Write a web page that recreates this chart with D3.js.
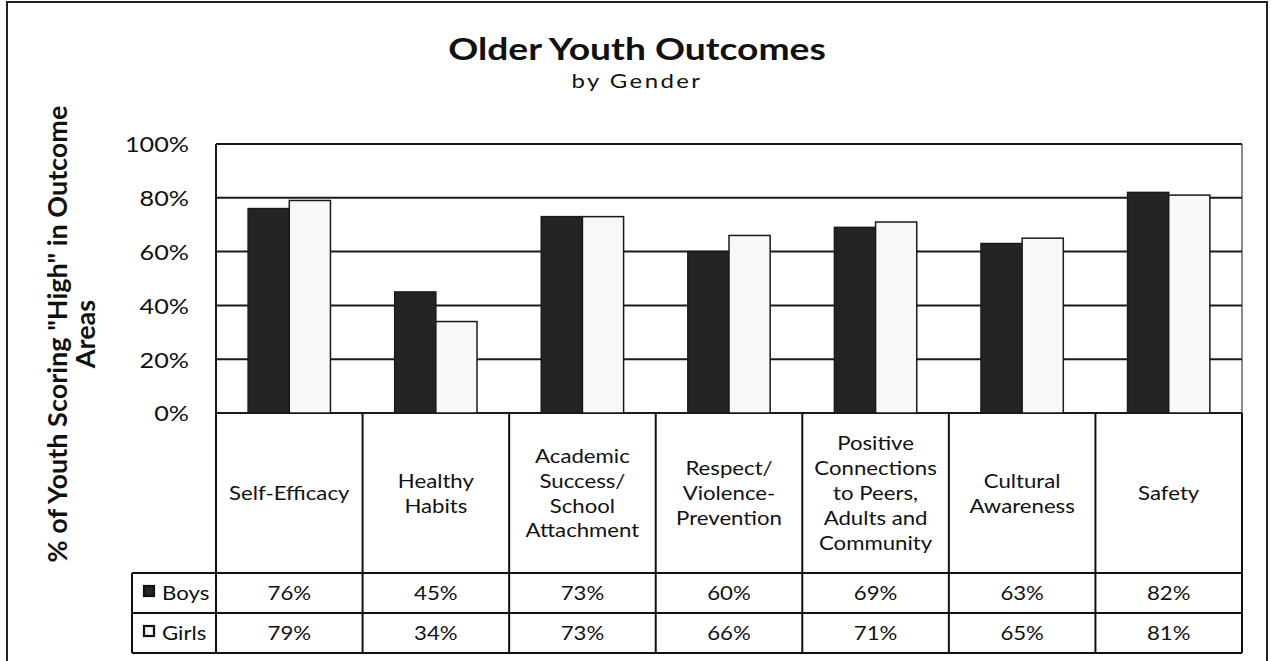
<!DOCTYPE html>
<html><head><meta charset="utf-8">
<script src="https://cdn.jsdelivr.net/npm/d3@7"></script>
<style>body{margin:0;background:#fff}svg{display:block}text{font-family:Lato,"Open Sans",sans-serif;fill:#111}</style>
</head><body><svg id="c" width="1271" height="661"></svg>
<script>
const categories = [
  ["Self-Efficacy"],
  ["Healthy","Habits"],
  ["Academic","Success/","School","Attachment"],
  ["Respect/","Violence-","Prevention"],
  ["Positive","Connections","to Peers,","Adults and","Community"],
  ["Cultural","Awareness"],
  ["Safety"]
];
const seriesNames = ["Boys","Girls"];
const boys = [76,45,73,60,69,63,82];
const girls = [79,34,73,66,71,65,81];
const yTicks = [0,20,40,60,80,100];
const title = "Older Youth Outcomes";
const subtitle = "by Gender";
const yLabel = ['% of Youth Scoring "High" in Outcome','Areas'];

const svg = d3.select("#c");
const L=216,R=1242,T=144,B=413;
const rowH=[573,613,653];
const legendL=132;
const S=1.2; // horizontal text stretch to mimic the scanned original
const colors={Boys:"#242424",Girls:"#f8f8f8"};

function stext(x,y,size,str,opts={}){
  const g=svg.append("g").attr("transform",`translate(${x},${y}) scale(${S},1)`);
  const t=g.append("text").attr("text-anchor",opts.anchor||"middle").style("font-size",size+"px");
  if(opts.bold) t.style("font-weight","bold");
  if(opts.ls) t.style("letter-spacing",opts.ls+"px");
  if(Array.isArray(str)){
    const lh=opts.lh||24;
    str.forEach((ln,k)=>t.append("tspan").attr("x",0).attr("y",(k-(str.length-1)/2)*lh).text(ln));
  } else t.text(str);
  return t;
}

// outer frame
svg.append("path").attr("d","M7,661 V2 H1267 V661").attr("fill","none").attr("stroke","#222").attr("stroke-width",2);

const x = d3.scaleBand().domain(d3.range(categories.length)).range([L,R]).padding(0);
const xs = d3.scaleBand().domain(seriesNames).range([0,x.bandwidth()]).paddingOuter(0.78).paddingInner(0);
const y = d3.scaleLinear().domain([0,100]).range([B,T]);

// gridlines
svg.append("g").selectAll("line").data(yTicks).join("line")
  .attr("x1",L).attr("x2",R).attr("y1",d=>y(d)).attr("y2",d=>y(d))
  .attr("stroke","#1a1a1a").attr("stroke-width",2);
svg.append("line").attr("x1",L).attr("x2",L).attr("y1",T).attr("y2",B).attr("stroke","#1a1a1a").attr("stroke-width",2);
svg.append("line").attr("x1",R).attr("x2",R).attr("y1",T).attr("y2",B).attr("stroke","#1a1a1a").attr("stroke-width",1);

// y axis tick labels
const pad=27;
const yAxis = d3.axisLeft(y).tickValues(yTicks).tickFormat(d=>d+"%").tickSize(0).tickPadding(pad);
const ga = svg.append("g").attr("transform",`translate(${L},0)`).call(yAxis);
ga.select(".domain").remove();
ga.selectAll("text").style("font-size","21px").style("font-family","Lato,'Open Sans',sans-serif")
  .attr("fill","#111").attr("x",-pad/S).attr("dy","0.38em").attr("transform",`scale(${S},1)`);

// bars
const data = categories.map((c,i)=>({i,Boys:boys[i],Girls:girls[i]}));
const g = svg.append("g");
seriesNames.forEach(s=>{
  g.selectAll(null).data(data).join("rect")
    .attr("x",d=>x(d.i)+xs(s)).attr("width",xs.bandwidth())
    .attr("y",d=>y(d[s])).attr("height",d=>B-y(d[s]))
    .attr("fill",colors[s]).attr("stroke","#1a1a1a").attr("stroke-width",1.5);
});

// table lines
const tl = svg.append("g").attr("stroke","#111").attr("stroke-width",2);
d3.range(categories.length+1).forEach(i=>{
  const xx = i<categories.length? x(i): R;
  tl.append("line").attr("x1",xx).attr("x2",xx).attr("y1",B).attr("y2",rowH[2]);
});
tl.append("line").attr("x1",legendL).attr("x2",legendL).attr("y1",rowH[0]).attr("y2",rowH[2]);
rowH.forEach(h=>tl.append("line").attr("x1",legendL).attr("x2",R).attr("y1",h).attr("y2",h));

// category labels
categories.forEach((lines,i)=>{
  stext(x(i)+x.bandwidth()/2,(B+rowH[0])/2+7,18.5,lines,{lh:25});
});
// values + legend
[boys,girls].forEach((arr,r)=>{
  const cy=(rowH[r]+rowH[r+1])/2+7;
  arr.forEach((d,i)=>stext(x(i)+x.bandwidth()/2,cy,18.5,d+"%"));
  svg.append("rect").attr("x",legendL+12).attr("y",cy-14).attr("width",10).attr("height",10)
    .attr("fill",colors[seriesNames[r]]).attr("stroke","#111").attr("stroke-width",2.2);
  stext(legendL+30,cy,18.5,seriesNames[r],{anchor:"start"});
});

// titles
stext(637,60,31,title,{bold:true});
stext(637,88,20,subtitle,{ls:2});
// y label
const yl = svg.append("text").attr("transform","translate(67,334) rotate(-90)").attr("text-anchor","middle").style("font-size","27px").style("font-weight","bold");
yl.append("tspan").attr("x",0).attr("y",0).text(yLabel[0]);
yl.append("tspan").attr("x",0).attr("y",28).text(yLabel[1]);
</script></body></html>
